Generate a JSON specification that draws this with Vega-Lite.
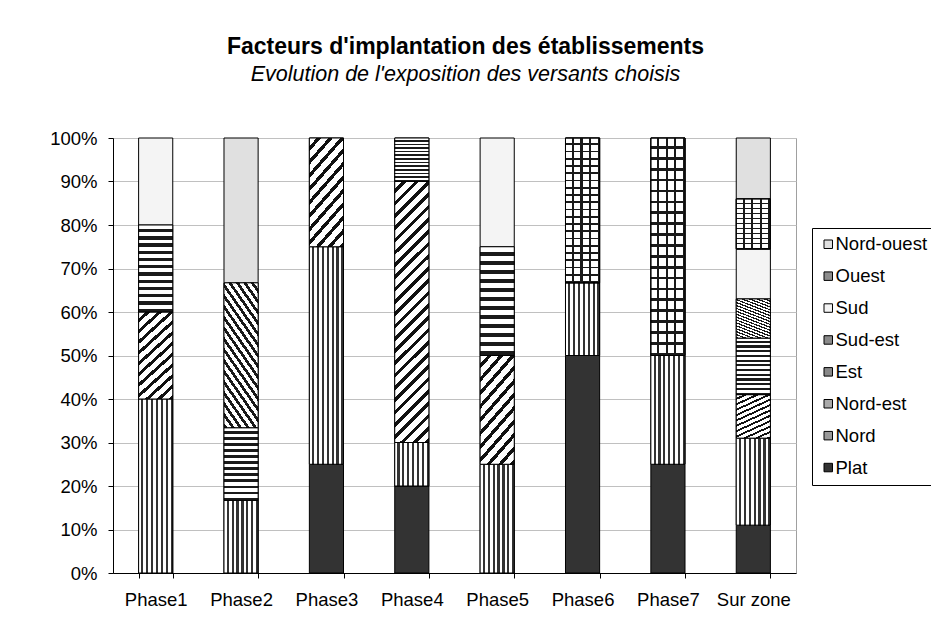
{
  "$schema": "https://vega.github.io/schema/vega-lite/v6.json",
  "width": 683,
  "height": 435,
  "autosize": {"type": "none"},
  "padding": {"left": 113, "top": 138, "right": 135, "bottom": 60},
  "background": "white",
  "title": {
    "text": "Facteurs d'implantation des établissements",
    "subtitle": "Evolution de l'exposition des versants choisis",
    "font": "Liberation Sans", "fontSize": 23, "fontWeight": "bold", "color": "black",
    "subtitleFont": "Liberation Sans", "subtitleFontSize": 21.5, "subtitleFontStyle": "italic", "subtitleColor": "black",
    "anchor": "middle", "frame": "group", "offset": 44, "dx": 11, "subtitlePadding": 5
  },
  "data": {"values": [
    {"phase": "Phase1", "cat": "Nord", "ord": 2, "value": 40},
    {"phase": "Phase1", "cat": "Nord-est", "ord": 3, "value": 20},
    {"phase": "Phase1", "cat": "Est", "ord": 4, "value": 20},
    {"phase": "Phase1", "cat": "Sud", "ord": 6, "value": 20},
    {"phase": "Phase2", "cat": "Nord", "ord": 2, "value": 16.7},
    {"phase": "Phase2", "cat": "Est", "ord": 4, "value": 16.7},
    {"phase": "Phase2", "cat": "Sud-est", "ord": 5, "value": 33.3},
    {"phase": "Phase2", "cat": "Nord-ouest", "ord": 8, "value": 33.3},
    {"phase": "Phase3", "cat": "Plat", "ord": 1, "value": 25},
    {"phase": "Phase3", "cat": "Nord", "ord": 2, "value": 50},
    {"phase": "Phase3", "cat": "Nord-est", "ord": 3, "value": 25},
    {"phase": "Phase4", "cat": "Plat", "ord": 1, "value": 20},
    {"phase": "Phase4", "cat": "Nord", "ord": 2, "value": 10},
    {"phase": "Phase4", "cat": "Nord-est", "ord": 3, "value": 60},
    {"phase": "Phase4", "cat": "Est", "ord": 4, "value": 10},
    {"phase": "Phase5", "cat": "Nord", "ord": 2, "value": 25},
    {"phase": "Phase5", "cat": "Nord-est", "ord": 3, "value": 25},
    {"phase": "Phase5", "cat": "Est", "ord": 4, "value": 25},
    {"phase": "Phase5", "cat": "Sud", "ord": 6, "value": 25},
    {"phase": "Phase6", "cat": "Plat", "ord": 1, "value": 50},
    {"phase": "Phase6", "cat": "Nord", "ord": 2, "value": 16.7},
    {"phase": "Phase6", "cat": "Ouest", "ord": 7, "value": 33.3},
    {"phase": "Phase7", "cat": "Plat", "ord": 1, "value": 25},
    {"phase": "Phase7", "cat": "Nord", "ord": 2, "value": 25},
    {"phase": "Phase7", "cat": "Ouest", "ord": 7, "value": 50},
    {"phase": "Sur zone", "cat": "Plat", "ord": 1, "value": 11},
    {"phase": "Sur zone", "cat": "Nord", "ord": 2, "value": 20},
    {"phase": "Sur zone", "cat": "Nord-est", "ord": 3, "value": 10},
    {"phase": "Sur zone", "cat": "Est", "ord": 4, "value": 13},
    {"phase": "Sur zone", "cat": "Sud-est", "ord": 5, "value": 9},
    {"phase": "Sur zone", "cat": "Sud", "ord": 6, "value": 11.5},
    {"phase": "Sur zone", "cat": "Ouest", "ord": 7, "value": 11.5},
    {"phase": "Sur zone", "cat": "Nord-ouest", "ord": 8, "value": 14}
  ]},
  "transform": [
    {"stack": "value", "groupby": ["phase"], "sort": [{"field": "ord", "order": "ascending"}], "offset": "normalize", "as": ["y0", "y1"]}
  ],
  "encoding": {
    "x": {"field": "phase", "type": "nominal", "sort": null,
      "scale": {"paddingInner": 0.6, "paddingOuter": 0.3},
      "axis": {"title": null, "labelAngle": 0, "tickBand": "extent", "tickSize": 5, "tickColor": "black", "domainColor": "black",
        "labelFont": "Liberation Sans", "labelFontSize": 18.5, "labelColor": "black", "labelPadding": 12, "grid": false}},
    "y": {"field": "y0", "type": "quantitative", "scale": {"domain": [0, 1], "nice": false},
      "axis": {"title": null, "format": ".0%", "values": [0, 0.1, 0.2, 0.3, 0.4, 0.5, 0.6, 0.7, 0.8, 0.9, 1],
        "tickSize": 5, "tickColor": "black", "domainColor": "black", "gridColor": "#c0c0c0",
        "labelFont": "Liberation Sans", "labelFontSize": 18.5, "labelColor": "black", "labelPadding": 11}},
    "y2": {"field": "y1"}
  },
  "layer": [
    {
      "mark": {"type": "bar", "stroke": "black", "strokeWidth": 1},
      "encoding": {
        "color": {"field": "cat", "type": "nominal",
          "scale": {
            "domain": ["Nord-ouest", "Ouest", "Sud", "Sud-est", "Est", "Nord-est", "Nord", "Plat"],
            "range": ["#e0e0e0", "#8c8c8c", "#f4f4f4", "#8a8a8a", "#888888", "#aaaaaa", "#9a9a9a", "#333333"]},
          "legend": {"orient": "none", "legendX": 699, "legendY": 90, "title": null, "strokeColor": "black", "fillColor": "white",
            "padding": 7, "symbolType": "square", "symbolSize": 72, "symbolStrokeColor": "black", "symbolStrokeWidth": 1, "symbolOpacity": 1,
            "labelFont": "Liberation Sans", "labelFontSize": 18.5, "labelColor": "black", "labelOffset": -2, "rowPadding": 12.9}}
      }
    },
    {
      "transform": [{"filter": "datum.cat === 'Nord'"}],
      "mark": {"type": "bar", "stroke": "black", "strokeWidth": 1,
        "fill": {"gradient": "linear", "x1": 0, "y1": 0, "x2": 1, "y2": 0, "stops": [
          {"offset": 0, "color": "#ffffff"}, {"offset": 0.0786, "color": "#ffffff"}, {"offset": 0.0786, "color": "#333333"}, {"offset": 0.1429, "color": "#333333"},
          {"offset": 0.1429, "color": "#ffffff"}, {"offset": 0.2214, "color": "#ffffff"}, {"offset": 0.2214, "color": "#333333"}, {"offset": 0.2857, "color": "#333333"},
          {"offset": 0.2857, "color": "#ffffff"}, {"offset": 0.3643, "color": "#ffffff"}, {"offset": 0.3643, "color": "#333333"}, {"offset": 0.4286, "color": "#333333"},
          {"offset": 0.4286, "color": "#ffffff"}, {"offset": 0.5071, "color": "#ffffff"}, {"offset": 0.5071, "color": "#333333"}, {"offset": 0.5714, "color": "#333333"},
          {"offset": 0.5714, "color": "#ffffff"}, {"offset": 0.65, "color": "#ffffff"}, {"offset": 0.65, "color": "#333333"}, {"offset": 0.7143, "color": "#333333"},
          {"offset": 0.7143, "color": "#ffffff"}, {"offset": 0.7929, "color": "#ffffff"}, {"offset": 0.7929, "color": "#333333"}, {"offset": 0.8571, "color": "#333333"},
          {"offset": 0.8571, "color": "#ffffff"}, {"offset": 0.9357, "color": "#ffffff"}, {"offset": 0.9357, "color": "#333333"}, {"offset": 1, "color": "#333333"}
        ]}}
    },
    {
      "transform": [{"filter": "datum.cat === 'Nord-est' && datum.phase !== 'Phase4'"}],
      "mark": {"type": "bar", "stroke": "black", "strokeWidth": 1,
        "fill": {"gradient": "linear", "x1": 0, "y1": 0, "x2": 0.431, "y2": 1.204, "stops": [
          {"offset": 0, "color": "#ffffff"}, {"offset": 0.0564, "color": "#ffffff"}, {"offset": 0.0564, "color": "#111111"}, {"offset": 0.0909, "color": "#111111"},
          {"offset": 0.0909, "color": "#ffffff"}, {"offset": 0.1473, "color": "#ffffff"}, {"offset": 0.1473, "color": "#111111"}, {"offset": 0.1818, "color": "#111111"},
          {"offset": 0.1818, "color": "#ffffff"}, {"offset": 0.2382, "color": "#ffffff"}, {"offset": 0.2382, "color": "#111111"}, {"offset": 0.2727, "color": "#111111"},
          {"offset": 0.2727, "color": "#ffffff"}, {"offset": 0.3291, "color": "#ffffff"}, {"offset": 0.3291, "color": "#111111"}, {"offset": 0.3636, "color": "#111111"},
          {"offset": 0.3636, "color": "#ffffff"}, {"offset": 0.42, "color": "#ffffff"}, {"offset": 0.42, "color": "#111111"}, {"offset": 0.4545, "color": "#111111"},
          {"offset": 0.4545, "color": "#ffffff"}, {"offset": 0.5109, "color": "#ffffff"}, {"offset": 0.5109, "color": "#111111"}, {"offset": 0.5455, "color": "#111111"},
          {"offset": 0.5455, "color": "#ffffff"}, {"offset": 0.6018, "color": "#ffffff"}, {"offset": 0.6018, "color": "#111111"}, {"offset": 0.6364, "color": "#111111"},
          {"offset": 0.6364, "color": "#ffffff"}, {"offset": 0.6927, "color": "#ffffff"}, {"offset": 0.6927, "color": "#111111"}, {"offset": 0.7273, "color": "#111111"},
          {"offset": 0.7273, "color": "#ffffff"}, {"offset": 0.7837, "color": "#ffffff"}, {"offset": 0.7837, "color": "#111111"}, {"offset": 0.8182, "color": "#111111"},
          {"offset": 0.8182, "color": "#ffffff"}, {"offset": 0.8746, "color": "#ffffff"}, {"offset": 0.8746, "color": "#111111"}, {"offset": 0.9091, "color": "#111111"},
          {"offset": 0.9091, "color": "#ffffff"}, {"offset": 0.9655, "color": "#ffffff"}, {"offset": 0.9655, "color": "#111111"}, {"offset": 1, "color": "#111111"}
        ]}}
    },
    {
      "transform": [{"filter": "datum.cat === 'Nord-est' && datum.phase === 'Phase4'"}],
      "mark": {"type": "bar", "stroke": "black", "strokeWidth": 1,
        "fill": {"gradient": "linear", "x1": 0, "y1": 0, "x2": 0.1448, "y2": 1.1114, "stops": [
          {"offset": 0, "color": "#ffffff"}, {"offset": 0.0258, "color": "#ffffff"}, {"offset": 0.0258, "color": "#111111"}, {"offset": 0.0417, "color": "#111111"},
          {"offset": 0.0417, "color": "#ffffff"}, {"offset": 0.0675, "color": "#ffffff"}, {"offset": 0.0675, "color": "#111111"}, {"offset": 0.0833, "color": "#111111"},
          {"offset": 0.0833, "color": "#ffffff"}, {"offset": 0.1092, "color": "#ffffff"}, {"offset": 0.1092, "color": "#111111"}, {"offset": 0.125, "color": "#111111"},
          {"offset": 0.125, "color": "#ffffff"}, {"offset": 0.1508, "color": "#ffffff"}, {"offset": 0.1508, "color": "#111111"}, {"offset": 0.1667, "color": "#111111"},
          {"offset": 0.1667, "color": "#ffffff"}, {"offset": 0.1925, "color": "#ffffff"}, {"offset": 0.1925, "color": "#111111"}, {"offset": 0.2083, "color": "#111111"},
          {"offset": 0.2083, "color": "#ffffff"}, {"offset": 0.2342, "color": "#ffffff"}, {"offset": 0.2342, "color": "#111111"}, {"offset": 0.25, "color": "#111111"},
          {"offset": 0.25, "color": "#ffffff"}, {"offset": 0.2758, "color": "#ffffff"}, {"offset": 0.2758, "color": "#111111"}, {"offset": 0.2917, "color": "#111111"},
          {"offset": 0.2917, "color": "#ffffff"}, {"offset": 0.3175, "color": "#ffffff"}, {"offset": 0.3175, "color": "#111111"}, {"offset": 0.3333, "color": "#111111"},
          {"offset": 0.3333, "color": "#ffffff"}, {"offset": 0.3592, "color": "#ffffff"}, {"offset": 0.3592, "color": "#111111"}, {"offset": 0.375, "color": "#111111"},
          {"offset": 0.375, "color": "#ffffff"}, {"offset": 0.4008, "color": "#ffffff"}, {"offset": 0.4008, "color": "#111111"}, {"offset": 0.4167, "color": "#111111"},
          {"offset": 0.4167, "color": "#ffffff"}, {"offset": 0.4425, "color": "#ffffff"}, {"offset": 0.4425, "color": "#111111"}, {"offset": 0.4583, "color": "#111111"},
          {"offset": 0.4583, "color": "#ffffff"}, {"offset": 0.4842, "color": "#ffffff"}, {"offset": 0.4842, "color": "#111111"}, {"offset": 0.5, "color": "#111111"},
          {"offset": 0.5, "color": "#ffffff"}, {"offset": 0.5258, "color": "#ffffff"}, {"offset": 0.5258, "color": "#111111"}, {"offset": 0.5417, "color": "#111111"},
          {"offset": 0.5417, "color": "#ffffff"}, {"offset": 0.5675, "color": "#ffffff"}, {"offset": 0.5675, "color": "#111111"}, {"offset": 0.5833, "color": "#111111"},
          {"offset": 0.5833, "color": "#ffffff"}, {"offset": 0.6092, "color": "#ffffff"}, {"offset": 0.6092, "color": "#111111"}, {"offset": 0.625, "color": "#111111"},
          {"offset": 0.625, "color": "#ffffff"}, {"offset": 0.6508, "color": "#ffffff"}, {"offset": 0.6508, "color": "#111111"}, {"offset": 0.6667, "color": "#111111"},
          {"offset": 0.6667, "color": "#ffffff"}, {"offset": 0.6925, "color": "#ffffff"}, {"offset": 0.6925, "color": "#111111"}, {"offset": 0.7083, "color": "#111111"},
          {"offset": 0.7083, "color": "#ffffff"}, {"offset": 0.7342, "color": "#ffffff"}, {"offset": 0.7342, "color": "#111111"}, {"offset": 0.75, "color": "#111111"},
          {"offset": 0.75, "color": "#ffffff"}, {"offset": 0.7758, "color": "#ffffff"}, {"offset": 0.7758, "color": "#111111"}, {"offset": 0.7917, "color": "#111111"},
          {"offset": 0.7917, "color": "#ffffff"}, {"offset": 0.8175, "color": "#ffffff"}, {"offset": 0.8175, "color": "#111111"}, {"offset": 0.8333, "color": "#111111"},
          {"offset": 0.8333, "color": "#ffffff"}, {"offset": 0.8592, "color": "#ffffff"}, {"offset": 0.8592, "color": "#111111"}, {"offset": 0.875, "color": "#111111"},
          {"offset": 0.875, "color": "#ffffff"}, {"offset": 0.9008, "color": "#ffffff"}, {"offset": 0.9008, "color": "#111111"}, {"offset": 0.9167, "color": "#111111"},
          {"offset": 0.9167, "color": "#ffffff"}, {"offset": 0.9425, "color": "#ffffff"}, {"offset": 0.9425, "color": "#111111"}, {"offset": 0.9583, "color": "#111111"},
          {"offset": 0.9583, "color": "#ffffff"}, {"offset": 0.9842, "color": "#ffffff"}, {"offset": 0.9842, "color": "#111111"}, {"offset": 1, "color": "#111111"}
        ]}}
    },
    {
      "transform": [{"filter": "datum.cat === 'Est'"}],
      "mark": {"type": "bar", "stroke": "black", "strokeWidth": 1,
        "fill": {"gradient": "linear", "x1": 0, "y1": 0, "x2": 0, "y2": 1, "stops": [
          {"offset": 0, "color": "#ffffff"}, {"offset": 0.0458, "color": "#ffffff"}, {"offset": 0.0458, "color": "#1a1a1a"}, {"offset": 0.0833, "color": "#1a1a1a"},
          {"offset": 0.0833, "color": "#ffffff"}, {"offset": 0.1292, "color": "#ffffff"}, {"offset": 0.1292, "color": "#1a1a1a"}, {"offset": 0.1667, "color": "#1a1a1a"},
          {"offset": 0.1667, "color": "#ffffff"}, {"offset": 0.2125, "color": "#ffffff"}, {"offset": 0.2125, "color": "#1a1a1a"}, {"offset": 0.25, "color": "#1a1a1a"},
          {"offset": 0.25, "color": "#ffffff"}, {"offset": 0.2958, "color": "#ffffff"}, {"offset": 0.2958, "color": "#1a1a1a"}, {"offset": 0.3333, "color": "#1a1a1a"},
          {"offset": 0.3333, "color": "#ffffff"}, {"offset": 0.3792, "color": "#ffffff"}, {"offset": 0.3792, "color": "#1a1a1a"}, {"offset": 0.4167, "color": "#1a1a1a"},
          {"offset": 0.4167, "color": "#ffffff"}, {"offset": 0.4625, "color": "#ffffff"}, {"offset": 0.4625, "color": "#1a1a1a"}, {"offset": 0.5, "color": "#1a1a1a"},
          {"offset": 0.5, "color": "#ffffff"}, {"offset": 0.5458, "color": "#ffffff"}, {"offset": 0.5458, "color": "#1a1a1a"}, {"offset": 0.5833, "color": "#1a1a1a"},
          {"offset": 0.5833, "color": "#ffffff"}, {"offset": 0.6292, "color": "#ffffff"}, {"offset": 0.6292, "color": "#1a1a1a"}, {"offset": 0.6667, "color": "#1a1a1a"},
          {"offset": 0.6667, "color": "#ffffff"}, {"offset": 0.7125, "color": "#ffffff"}, {"offset": 0.7125, "color": "#1a1a1a"}, {"offset": 0.75, "color": "#1a1a1a"},
          {"offset": 0.75, "color": "#ffffff"}, {"offset": 0.7958, "color": "#ffffff"}, {"offset": 0.7958, "color": "#1a1a1a"}, {"offset": 0.8333, "color": "#1a1a1a"},
          {"offset": 0.8333, "color": "#ffffff"}, {"offset": 0.8792, "color": "#ffffff"}, {"offset": 0.8792, "color": "#1a1a1a"}, {"offset": 0.9167, "color": "#1a1a1a"},
          {"offset": 0.9167, "color": "#ffffff"}, {"offset": 0.9625, "color": "#ffffff"}, {"offset": 0.9625, "color": "#1a1a1a"}, {"offset": 1, "color": "#1a1a1a"}
        ]}}
    },
    {
      "transform": [{"filter": "datum.cat === 'Sud-est'"}],
      "mark": {"type": "bar", "stroke": "black", "strokeWidth": 1,
        "fill": {"gradient": "linear", "x1": 1, "y1": 0, "x2": 0.592, "y2": 1.201, "stops": [
          {"offset": 0, "color": "#ffffff"}, {"offset": 0.0306, "color": "#ffffff"}, {"offset": 0.0306, "color": "#1a1a1a"}, {"offset": 0.0556, "color": "#1a1a1a"},
          {"offset": 0.0556, "color": "#ffffff"}, {"offset": 0.0861, "color": "#ffffff"}, {"offset": 0.0861, "color": "#1a1a1a"}, {"offset": 0.1111, "color": "#1a1a1a"},
          {"offset": 0.1111, "color": "#ffffff"}, {"offset": 0.1417, "color": "#ffffff"}, {"offset": 0.1417, "color": "#1a1a1a"}, {"offset": 0.1667, "color": "#1a1a1a"},
          {"offset": 0.1667, "color": "#ffffff"}, {"offset": 0.1972, "color": "#ffffff"}, {"offset": 0.1972, "color": "#1a1a1a"}, {"offset": 0.2222, "color": "#1a1a1a"},
          {"offset": 0.2222, "color": "#ffffff"}, {"offset": 0.2528, "color": "#ffffff"}, {"offset": 0.2528, "color": "#1a1a1a"}, {"offset": 0.2778, "color": "#1a1a1a"},
          {"offset": 0.2778, "color": "#ffffff"}, {"offset": 0.3083, "color": "#ffffff"}, {"offset": 0.3083, "color": "#1a1a1a"}, {"offset": 0.3333, "color": "#1a1a1a"},
          {"offset": 0.3333, "color": "#ffffff"}, {"offset": 0.3639, "color": "#ffffff"}, {"offset": 0.3639, "color": "#1a1a1a"}, {"offset": 0.3889, "color": "#1a1a1a"},
          {"offset": 0.3889, "color": "#ffffff"}, {"offset": 0.4194, "color": "#ffffff"}, {"offset": 0.4194, "color": "#1a1a1a"}, {"offset": 0.4444, "color": "#1a1a1a"},
          {"offset": 0.4444, "color": "#ffffff"}, {"offset": 0.475, "color": "#ffffff"}, {"offset": 0.475, "color": "#1a1a1a"}, {"offset": 0.5, "color": "#1a1a1a"},
          {"offset": 0.5, "color": "#ffffff"}, {"offset": 0.5306, "color": "#ffffff"}, {"offset": 0.5306, "color": "#1a1a1a"}, {"offset": 0.5556, "color": "#1a1a1a"},
          {"offset": 0.5556, "color": "#ffffff"}, {"offset": 0.5861, "color": "#ffffff"}, {"offset": 0.5861, "color": "#1a1a1a"}, {"offset": 0.6111, "color": "#1a1a1a"},
          {"offset": 0.6111, "color": "#ffffff"}, {"offset": 0.6417, "color": "#ffffff"}, {"offset": 0.6417, "color": "#1a1a1a"}, {"offset": 0.6667, "color": "#1a1a1a"},
          {"offset": 0.6667, "color": "#ffffff"}, {"offset": 0.6972, "color": "#ffffff"}, {"offset": 0.6972, "color": "#1a1a1a"}, {"offset": 0.7222, "color": "#1a1a1a"},
          {"offset": 0.7222, "color": "#ffffff"}, {"offset": 0.7528, "color": "#ffffff"}, {"offset": 0.7528, "color": "#1a1a1a"}, {"offset": 0.7778, "color": "#1a1a1a"},
          {"offset": 0.7778, "color": "#ffffff"}, {"offset": 0.8083, "color": "#ffffff"}, {"offset": 0.8083, "color": "#1a1a1a"}, {"offset": 0.8333, "color": "#1a1a1a"},
          {"offset": 0.8333, "color": "#ffffff"}, {"offset": 0.8639, "color": "#ffffff"}, {"offset": 0.8639, "color": "#1a1a1a"}, {"offset": 0.8889, "color": "#1a1a1a"},
          {"offset": 0.8889, "color": "#ffffff"}, {"offset": 0.9194, "color": "#ffffff"}, {"offset": 0.9194, "color": "#1a1a1a"}, {"offset": 0.9444, "color": "#1a1a1a"},
          {"offset": 0.9444, "color": "#ffffff"}, {"offset": 0.975, "color": "#ffffff"}, {"offset": 0.975, "color": "#1a1a1a"}, {"offset": 1, "color": "#1a1a1a"}
        ]}}
    },
    {
      "transform": [{"filter": "datum.cat === 'Ouest'"}],
      "mark": {"type": "bar", "stroke": "black", "strokeWidth": 1,
        "fill": {"gradient": "linear", "x1": 0, "y1": 0, "x2": 0, "y2": 1, "stops": [
          {"offset": 0, "color": "#ffffff"}, {"offset": 0.0375, "color": "#ffffff"}, {"offset": 0.0375, "color": "#1a1a1a"}, {"offset": 0.05, "color": "#1a1a1a"},
          {"offset": 0.05, "color": "#ffffff"}, {"offset": 0.0875, "color": "#ffffff"}, {"offset": 0.0875, "color": "#1a1a1a"}, {"offset": 0.1, "color": "#1a1a1a"},
          {"offset": 0.1, "color": "#ffffff"}, {"offset": 0.1375, "color": "#ffffff"}, {"offset": 0.1375, "color": "#1a1a1a"}, {"offset": 0.15, "color": "#1a1a1a"},
          {"offset": 0.15, "color": "#ffffff"}, {"offset": 0.1875, "color": "#ffffff"}, {"offset": 0.1875, "color": "#1a1a1a"}, {"offset": 0.2, "color": "#1a1a1a"},
          {"offset": 0.2, "color": "#ffffff"}, {"offset": 0.2375, "color": "#ffffff"}, {"offset": 0.2375, "color": "#1a1a1a"}, {"offset": 0.25, "color": "#1a1a1a"},
          {"offset": 0.25, "color": "#ffffff"}, {"offset": 0.2875, "color": "#ffffff"}, {"offset": 0.2875, "color": "#1a1a1a"}, {"offset": 0.3, "color": "#1a1a1a"},
          {"offset": 0.3, "color": "#ffffff"}, {"offset": 0.3375, "color": "#ffffff"}, {"offset": 0.3375, "color": "#1a1a1a"}, {"offset": 0.35, "color": "#1a1a1a"},
          {"offset": 0.35, "color": "#ffffff"}, {"offset": 0.3875, "color": "#ffffff"}, {"offset": 0.3875, "color": "#1a1a1a"}, {"offset": 0.4, "color": "#1a1a1a"},
          {"offset": 0.4, "color": "#ffffff"}, {"offset": 0.4375, "color": "#ffffff"}, {"offset": 0.4375, "color": "#1a1a1a"}, {"offset": 0.45, "color": "#1a1a1a"},
          {"offset": 0.45, "color": "#ffffff"}, {"offset": 0.4875, "color": "#ffffff"}, {"offset": 0.4875, "color": "#1a1a1a"}, {"offset": 0.5, "color": "#1a1a1a"},
          {"offset": 0.5, "color": "#ffffff"}, {"offset": 0.5375, "color": "#ffffff"}, {"offset": 0.5375, "color": "#1a1a1a"}, {"offset": 0.55, "color": "#1a1a1a"},
          {"offset": 0.55, "color": "#ffffff"}, {"offset": 0.5875, "color": "#ffffff"}, {"offset": 0.5875, "color": "#1a1a1a"}, {"offset": 0.6, "color": "#1a1a1a"},
          {"offset": 0.6, "color": "#ffffff"}, {"offset": 0.6375, "color": "#ffffff"}, {"offset": 0.6375, "color": "#1a1a1a"}, {"offset": 0.65, "color": "#1a1a1a"},
          {"offset": 0.65, "color": "#ffffff"}, {"offset": 0.6875, "color": "#ffffff"}, {"offset": 0.6875, "color": "#1a1a1a"}, {"offset": 0.7, "color": "#1a1a1a"},
          {"offset": 0.7, "color": "#ffffff"}, {"offset": 0.7375, "color": "#ffffff"}, {"offset": 0.7375, "color": "#1a1a1a"}, {"offset": 0.75, "color": "#1a1a1a"},
          {"offset": 0.75, "color": "#ffffff"}, {"offset": 0.7875, "color": "#ffffff"}, {"offset": 0.7875, "color": "#1a1a1a"}, {"offset": 0.8, "color": "#1a1a1a"},
          {"offset": 0.8, "color": "#ffffff"}, {"offset": 0.8375, "color": "#ffffff"}, {"offset": 0.8375, "color": "#1a1a1a"}, {"offset": 0.85, "color": "#1a1a1a"},
          {"offset": 0.85, "color": "#ffffff"}, {"offset": 0.8875, "color": "#ffffff"}, {"offset": 0.8875, "color": "#1a1a1a"}, {"offset": 0.9, "color": "#1a1a1a"},
          {"offset": 0.9, "color": "#ffffff"}, {"offset": 0.9375, "color": "#ffffff"}, {"offset": 0.9375, "color": "#1a1a1a"}, {"offset": 0.95, "color": "#1a1a1a"},
          {"offset": 0.95, "color": "#ffffff"}, {"offset": 0.9875, "color": "#ffffff"}, {"offset": 0.9875, "color": "#1a1a1a"}, {"offset": 1, "color": "#1a1a1a"}
        ]}}
    },
    {
      "transform": [{"filter": "datum.cat === 'Ouest'"}],
      "mark": {"type": "bar", "stroke": "black", "strokeWidth": 1,
        "fill": {"gradient": "linear", "x1": 0, "y1": 0, "x2": 1, "y2": 0, "stops": [
          {"offset": 0, "color": "rgba(0,0,0,0)"}, {"offset": 0.1875, "color": "rgba(0,0,0,0)"}, {"offset": 0.1875, "color": "#1a1a1a"}, {"offset": 0.25, "color": "#1a1a1a"},
          {"offset": 0.25, "color": "rgba(0,0,0,0)"}, {"offset": 0.4375, "color": "rgba(0,0,0,0)"}, {"offset": 0.4375, "color": "#1a1a1a"}, {"offset": 0.5, "color": "#1a1a1a"},
          {"offset": 0.5, "color": "rgba(0,0,0,0)"}, {"offset": 0.6875, "color": "rgba(0,0,0,0)"}, {"offset": 0.6875, "color": "#1a1a1a"}, {"offset": 0.75, "color": "#1a1a1a"},
          {"offset": 0.75, "color": "rgba(0,0,0,0)"}, {"offset": 0.9375, "color": "rgba(0,0,0,0)"}, {"offset": 0.9375, "color": "#1a1a1a"}, {"offset": 1, "color": "#1a1a1a"}
        ]}}
    }
  ],
  "config": {
    "view": {"stroke": "#a0a0a0"},
    "font": "Liberation Sans"
  }
}
